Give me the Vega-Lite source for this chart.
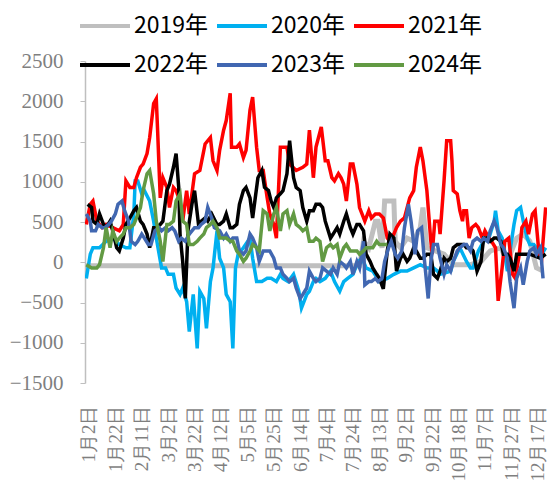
{
  "$schema": "https://vega.github.io/schema/vega-lite/v6.json",
  "autosize": "none",
  "width": 462,
  "height": 322,
  "padding": {"left": 85, "top": 61, "right": 0, "bottom": 110},
  "background": "white",
  "data": {
    "values": [
      {"s": "2019年", "i": -3, "v": -45}, {"s": "2019年", "i": 20, "v": -45}, {"s": "2019年", "i": 40, "v": -45},
      {"s": "2019年", "i": 60, "v": -45}, {"s": "2019年", "i": 80, "v": -45}, {"s": "2019年", "i": 100, "v": -45},
      {"s": "2019年", "i": 120, "v": -45}, {"s": "2019年", "i": 140, "v": -45}, {"s": "2019年", "i": 160, "v": -45},
      {"s": "2019年", "i": 180, "v": -45}, {"s": "2019年", "i": 205, "v": -45},
      {"s": "2019年", "i": 208, "v": 260}, {"s": "2019年", "i": 212, "v": 180}, {"s": "2019年", "i": 217, "v": 510},
      {"s": "2019年", "i": 219, "v": 510}, {"s": "2019年", "i": 222, "v": 180}, {"s": "2019年", "i": 224, "v": 760},
      {"s": "2019年", "i": 231, "v": 760}, {"s": "2019年", "i": 232, "v": 260}, {"s": "2019年", "i": 236, "v": 180},
      {"s": "2019年", "i": 241, "v": 300}, {"s": "2019年", "i": 246, "v": 260}, {"s": "2019年", "i": 251, "v": 430},
      {"s": "2019年", "i": 253, "v": 680}, {"s": "2019年", "i": 256, "v": 180}, {"s": "2019年", "i": 269, "v": 100},
      {"s": "2019年", "i": 276, "v": -30}, {"s": "2019年", "i": 281, "v": -30}, {"s": "2019年", "i": 289, "v": -30},
      {"s": "2019年", "i": 297, "v": 10}, {"s": "2019年", "i": 304, "v": 140}, {"s": "2019年", "i": 312, "v": 180},
      {"s": "2019年", "i": 317, "v": 10}, {"s": "2019年", "i": 324, "v": 300}, {"s": "2019年", "i": 329, "v": 350},
      {"s": "2019年", "i": 334, "v": 260}, {"s": "2019年", "i": 339, "v": -70}, {"s": "2019年", "i": 344, "v": -110},

      {"s": "2020年", "i": -2, "v": -200}, {"s": "2020年", "i": 1, "v": 100}, {"s": "2020年", "i": 3, "v": 180},
      {"s": "2020年", "i": 8, "v": 180}, {"s": "2020年", "i": 13, "v": 260}, {"s": "2020年", "i": 18, "v": 300},
      {"s": "2020年", "i": 23, "v": 220}, {"s": "2020年", "i": 28, "v": 180}, {"s": "2020年", "i": 31, "v": 180},
      {"s": "2020年", "i": 34, "v": 600}, {"s": "2020年", "i": 35, "v": 1010}, {"s": "2020年", "i": 37, "v": 1010},
      {"s": "2020年", "i": 40, "v": 850}, {"s": "2020年", "i": 42, "v": 890}, {"s": "2020年", "i": 46, "v": 760},
      {"s": "2020年", "i": 49, "v": 510}, {"s": "2020年", "i": 51, "v": 300}, {"s": "2020年", "i": 55, "v": -70},
      {"s": "2020年", "i": 58, "v": -70}, {"s": "2020年", "i": 60, "v": -150}, {"s": "2020年", "i": 64, "v": -150},
      {"s": "2020年", "i": 66, "v": -320}, {"s": "2020年", "i": 69, "v": -400}, {"s": "2020年", "i": 71, "v": -320},
      {"s": "2020年", "i": 74, "v": -490}, {"s": "2020年", "i": 76, "v": -860}, {"s": "2020年", "i": 79, "v": -400},
      {"s": "2020年", "i": 82, "v": -1070}, {"s": "2020年", "i": 84, "v": -360}, {"s": "2020年", "i": 87, "v": -450},
      {"s": "2020年", "i": 89, "v": -820}, {"s": "2020年", "i": 92, "v": -240}, {"s": "2020年", "i": 94, "v": -70},
      {"s": "2020年", "i": 97, "v": 390}, {"s": "2020年", "i": 99, "v": 50}, {"s": "2020年", "i": 102, "v": -70},
      {"s": "2020年", "i": 104, "v": -400}, {"s": "2020年", "i": 107, "v": -490}, {"s": "2020年", "i": 109, "v": -1070},
      {"s": "2020年", "i": 111, "v": -70}, {"s": "2020年", "i": 113, "v": 100}, {"s": "2020年", "i": 117, "v": 180},
      {"s": "2020年", "i": 122, "v": 300}, {"s": "2020年", "i": 124, "v": 50}, {"s": "2020年", "i": 127, "v": -240},
      {"s": "2020年", "i": 131, "v": -240}, {"s": "2020年", "i": 135, "v": -200}, {"s": "2020年", "i": 138, "v": -200},
      {"s": "2020年", "i": 142, "v": -240}, {"s": "2020年", "i": 145, "v": -150}, {"s": "2020年", "i": 147, "v": -200},
      {"s": "2020年", "i": 151, "v": -240}, {"s": "2020年", "i": 155, "v": -150}, {"s": "2020年", "i": 159, "v": -360},
      {"s": "2020年", "i": 161, "v": -570}, {"s": "2020年", "i": 165, "v": -400}, {"s": "2020年", "i": 167, "v": -360},
      {"s": "2020年", "i": 170, "v": -240}, {"s": "2020年", "i": 172, "v": -200}, {"s": "2020年", "i": 175, "v": -240},
      {"s": "2020年", "i": 179, "v": -200}, {"s": "2020年", "i": 183, "v": -110}, {"s": "2020年", "i": 186, "v": -240},
      {"s": "2020年", "i": 190, "v": -360}, {"s": "2020年", "i": 193, "v": -240}, {"s": "2020年", "i": 196, "v": -200},
      {"s": "2020年", "i": 200, "v": -150}, {"s": "2020年", "i": 204, "v": 10}, {"s": "2020年", "i": 207, "v": 50},
      {"s": "2020年", "i": 210, "v": -70}, {"s": "2020年", "i": 215, "v": -110}, {"s": "2020年", "i": 220, "v": -240},
      {"s": "2020年", "i": 226, "v": -200}, {"s": "2020年", "i": 231, "v": -150}, {"s": "2020年", "i": 236, "v": -110},
      {"s": "2020年", "i": 241, "v": -110}, {"s": "2020年", "i": 246, "v": -70}, {"s": "2020年", "i": 251, "v": -30},
      {"s": "2020年", "i": 256, "v": -70}, {"s": "2020年", "i": 261, "v": -70}, {"s": "2020年", "i": 264, "v": -110},
      {"s": "2020年", "i": 266, "v": -150}, {"s": "2020年", "i": 270, "v": -130}, {"s": "2020年", "i": 274, "v": -110},
      {"s": "2020年", "i": 276, "v": 10}, {"s": "2020年", "i": 281, "v": 180}, {"s": "2020年", "i": 286, "v": 10},
      {"s": "2020年", "i": 289, "v": -70}, {"s": "2020年", "i": 291, "v": -70}, {"s": "2020年", "i": 295, "v": 140},
      {"s": "2020年", "i": 299, "v": 260}, {"s": "2020年", "i": 303, "v": 300}, {"s": "2020年", "i": 307, "v": 510},
      {"s": "2020年", "i": 308, "v": 640}, {"s": "2020年", "i": 310, "v": 390}, {"s": "2020年", "i": 313, "v": 300},
      {"s": "2020年", "i": 317, "v": -110}, {"s": "2020年", "i": 319, "v": 140}, {"s": "2020年", "i": 322, "v": 470},
      {"s": "2020年", "i": 324, "v": 640}, {"s": "2020年", "i": 327, "v": 680}, {"s": "2020年", "i": 329, "v": 510},
      {"s": "2020年", "i": 332, "v": 300}, {"s": "2020年", "i": 334, "v": 220}, {"s": "2020年", "i": 337, "v": 220},
      {"s": "2020年", "i": 339, "v": 180}, {"s": "2020年", "i": 343, "v": 100}, {"s": "2020年", "i": 346, "v": 180},

      {"s": "2021年", "i": -2, "v": 470}, {"s": "2021年", "i": 1, "v": 720}, {"s": "2021年", "i": 3, "v": 760},
      {"s": "2021年", "i": 6, "v": 510}, {"s": "2021年", "i": 10, "v": 430}, {"s": "2021年", "i": 13, "v": 470},
      {"s": "2021年", "i": 18, "v": 430}, {"s": "2021年", "i": 23, "v": 390}, {"s": "2021年", "i": 26, "v": 470},
      {"s": "2021年", "i": 28, "v": 1010}, {"s": "2021年", "i": 31, "v": 930}, {"s": "2021年", "i": 34, "v": 930},
      {"s": "2021年", "i": 36, "v": 1050}, {"s": "2021年", "i": 39, "v": 1180}, {"s": "2021年", "i": 41, "v": 1220},
      {"s": "2021年", "i": 44, "v": 1350}, {"s": "2021年", "i": 46, "v": 1550}, {"s": "2021年", "i": 49, "v": 1970},
      {"s": "2021年", "i": 51, "v": 2030}, {"s": "2021年", "i": 52, "v": 1640}, {"s": "2021年", "i": 54, "v": 800},
      {"s": "2021年", "i": 56, "v": 1050}, {"s": "2021年", "i": 59, "v": 930}, {"s": "2021年", "i": 61, "v": 680},
      {"s": "2021年", "i": 64, "v": 930}, {"s": "2021年", "i": 66, "v": 890}, {"s": "2021年", "i": 69, "v": 760},
      {"s": "2021年", "i": 71, "v": 510}, {"s": "2021年", "i": 74, "v": 890}, {"s": "2021年", "i": 76, "v": 600},
      {"s": "2021年", "i": 80, "v": 1100}, {"s": "2021年", "i": 84, "v": 1140}, {"s": "2021年", "i": 88, "v": 1470},
      {"s": "2021年", "i": 92, "v": 1550}, {"s": "2021年", "i": 94, "v": 1260}, {"s": "2021年", "i": 97, "v": 1140},
      {"s": "2021年", "i": 99, "v": 1390}, {"s": "2021年", "i": 102, "v": 1640}, {"s": "2021年", "i": 104, "v": 1760},
      {"s": "2021年", "i": 107, "v": 2100}, {"s": "2021年", "i": 108, "v": 1430}, {"s": "2021年", "i": 112, "v": 1430},
      {"s": "2021年", "i": 114, "v": 1470}, {"s": "2021年", "i": 117, "v": 1300}, {"s": "2021年", "i": 119, "v": 1390},
      {"s": "2021年", "i": 122, "v": 1890}, {"s": "2021年", "i": 124, "v": 2050}, {"s": "2021年", "i": 127, "v": 1430},
      {"s": "2021年", "i": 129, "v": 1140}, {"s": "2021年", "i": 132, "v": 1140}, {"s": "2021年", "i": 135, "v": 800},
      {"s": "2021年", "i": 137, "v": 600}, {"s": "2021年", "i": 140, "v": 470}, {"s": "2021年", "i": 142, "v": 300},
      {"s": "2021年", "i": 145, "v": 1430}, {"s": "2021年", "i": 150, "v": 1430}, {"s": "2021年", "i": 152, "v": 1220},
      {"s": "2021年", "i": 157, "v": 1140}, {"s": "2021年", "i": 162, "v": 1180}, {"s": "2021年", "i": 165, "v": 1220},
      {"s": "2021年", "i": 167, "v": 1640}, {"s": "2021年", "i": 170, "v": 1050}, {"s": "2021年", "i": 172, "v": 1430},
      {"s": "2021年", "i": 176, "v": 1680}, {"s": "2021年", "i": 179, "v": 1260}, {"s": "2021年", "i": 181, "v": 1260},
      {"s": "2021年", "i": 184, "v": 1050}, {"s": "2021年", "i": 186, "v": 1010}, {"s": "2021年", "i": 189, "v": 1100},
      {"s": "2021年", "i": 191, "v": 1050}, {"s": "2021年", "i": 193, "v": 970}, {"s": "2021年", "i": 195, "v": 760},
      {"s": "2021年", "i": 198, "v": 1220}, {"s": "2021年", "i": 200, "v": 1220}, {"s": "2021年", "i": 203, "v": 970},
      {"s": "2021年", "i": 205, "v": 680}, {"s": "2021年", "i": 209, "v": 510}, {"s": "2021年", "i": 212, "v": 640},
      {"s": "2021年", "i": 214, "v": 550}, {"s": "2021年", "i": 217, "v": 600}, {"s": "2021年", "i": 220, "v": 600},
      {"s": "2021年", "i": 223, "v": 550}, {"s": "2021年", "i": 226, "v": 300}, {"s": "2021年", "i": 228, "v": 260},
      {"s": "2021年", "i": 231, "v": 350}, {"s": "2021年", "i": 233, "v": 430}, {"s": "2021年", "i": 236, "v": 510},
      {"s": "2021年", "i": 239, "v": 550}, {"s": "2021年", "i": 243, "v": 800}, {"s": "2021年", "i": 246, "v": 890},
      {"s": "2021年", "i": 248, "v": 1180}, {"s": "2021年", "i": 251, "v": 1430}, {"s": "2021年", "i": 253, "v": 1260},
      {"s": "2021年", "i": 256, "v": 890}, {"s": "2021年", "i": 259, "v": 260}, {"s": "2021年", "i": 260, "v": 100},
      {"s": "2021年", "i": 262, "v": 510}, {"s": "2021年", "i": 265, "v": 510}, {"s": "2021年", "i": 266, "v": 350},
      {"s": "2021年", "i": 269, "v": 1010}, {"s": "2021年", "i": 271, "v": 1510}, {"s": "2021年", "i": 274, "v": 1510},
      {"s": "2021年", "i": 275, "v": 1260}, {"s": "2021年", "i": 276, "v": 890}, {"s": "2021年", "i": 279, "v": 850},
      {"s": "2021年", "i": 281, "v": 640}, {"s": "2021年", "i": 283, "v": 510}, {"s": "2021年", "i": 284, "v": 640},
      {"s": "2021年", "i": 286, "v": 640}, {"s": "2021年", "i": 288, "v": 300}, {"s": "2021年", "i": 290, "v": 430},
      {"s": "2021年", "i": 293, "v": 470}, {"s": "2021年", "i": 295, "v": 430}, {"s": "2021年", "i": 298, "v": 300},
      {"s": "2021年", "i": 300, "v": 390}, {"s": "2021年", "i": 303, "v": 300}, {"s": "2021年", "i": 305, "v": 260},
      {"s": "2021年", "i": 308, "v": 180}, {"s": "2021年", "i": 310, "v": -480}, {"s": "2021年", "i": 313, "v": -70},
      {"s": "2021年", "i": 315, "v": 260}, {"s": "2021年", "i": 318, "v": 300}, {"s": "2021年", "i": 321, "v": -150},
      {"s": "2021年", "i": 323, "v": -200}, {"s": "2021年", "i": 326, "v": 100}, {"s": "2021年", "i": 328, "v": 430},
      {"s": "2021年", "i": 331, "v": 510}, {"s": "2021年", "i": 333, "v": 350}, {"s": "2021年", "i": 336, "v": 600},
      {"s": "2021年", "i": 338, "v": 640}, {"s": "2021年", "i": 341, "v": 100}, {"s": "2021年", "i": 343, "v": 50},
      {"s": "2021年", "i": 346, "v": 680},

      {"s": "2022年", "i": -1, "v": 720}, {"s": "2022年", "i": 2, "v": 680}, {"s": "2022年", "i": 3, "v": 510},
      {"s": "2022年", "i": 6, "v": 470}, {"s": "2022年", "i": 8, "v": 600}, {"s": "2022年", "i": 11, "v": 470},
      {"s": "2022年", "i": 13, "v": 430}, {"s": "2022年", "i": 16, "v": 510}, {"s": "2022年", "i": 18, "v": 390},
      {"s": "2022年", "i": 21, "v": 180}, {"s": "2022年", "i": 23, "v": 140}, {"s": "2022年", "i": 26, "v": 300},
      {"s": "2022年", "i": 28, "v": 470}, {"s": "2022年", "i": 31, "v": 550}, {"s": "2022年", "i": 34, "v": 640},
      {"s": "2022年", "i": 36, "v": 680}, {"s": "2022年", "i": 39, "v": 510}, {"s": "2022年", "i": 41, "v": 470},
      {"s": "2022年", "i": 44, "v": 350}, {"s": "2022年", "i": 46, "v": 180}, {"s": "2022年", "i": 49, "v": 430},
      {"s": "2022年", "i": 51, "v": 430}, {"s": "2022年", "i": 54, "v": 470}, {"s": "2022年", "i": 56, "v": 510},
      {"s": "2022年", "i": 59, "v": 890}, {"s": "2022年", "i": 61, "v": 970}, {"s": "2022年", "i": 64, "v": 1180},
      {"s": "2022年", "i": 66, "v": 1350}, {"s": "2022年", "i": 68, "v": 930}, {"s": "2022年", "i": 69, "v": 350},
      {"s": "2022年", "i": 71, "v": 10}, {"s": "2022年", "i": 73, "v": -450}, {"s": "2022年", "i": 75, "v": 390},
      {"s": "2022年", "i": 78, "v": 720}, {"s": "2022年", "i": 80, "v": 890}, {"s": "2022年", "i": 83, "v": 470},
      {"s": "2022年", "i": 85, "v": 510}, {"s": "2022年", "i": 88, "v": 550}, {"s": "2022年", "i": 90, "v": 510},
      {"s": "2022年", "i": 93, "v": 600}, {"s": "2022年", "i": 97, "v": 470}, {"s": "2022年", "i": 99, "v": 470},
      {"s": "2022年", "i": 102, "v": 510}, {"s": "2022年", "i": 104, "v": 600}, {"s": "2022年", "i": 107, "v": 430},
      {"s": "2022年", "i": 109, "v": 430}, {"s": "2022年", "i": 112, "v": 470}, {"s": "2022年", "i": 114, "v": 720},
      {"s": "2022年", "i": 117, "v": 890}, {"s": "2022年", "i": 119, "v": 930}, {"s": "2022年", "i": 122, "v": 800},
      {"s": "2022年", "i": 124, "v": 550}, {"s": "2022年", "i": 126, "v": 800}, {"s": "2022年", "i": 128, "v": 1050},
      {"s": "2022年", "i": 131, "v": 1140}, {"s": "2022年", "i": 133, "v": 930}, {"s": "2022年", "i": 136, "v": 890},
      {"s": "2022年", "i": 138, "v": 760}, {"s": "2022年", "i": 140, "v": 680}, {"s": "2022年", "i": 142, "v": 800},
      {"s": "2022年", "i": 145, "v": 850}, {"s": "2022年", "i": 147, "v": 890}, {"s": "2022年", "i": 150, "v": 1100},
      {"s": "2022年", "i": 152, "v": 1510}, {"s": "2022年", "i": 155, "v": 1050}, {"s": "2022年", "i": 157, "v": 930},
      {"s": "2022年", "i": 160, "v": 890}, {"s": "2022年", "i": 162, "v": 680}, {"s": "2022年", "i": 165, "v": 510},
      {"s": "2022年", "i": 167, "v": 640}, {"s": "2022年", "i": 170, "v": 640}, {"s": "2022年", "i": 172, "v": 720},
      {"s": "2022年", "i": 175, "v": 720}, {"s": "2022年", "i": 177, "v": 680}, {"s": "2022年", "i": 179, "v": 510},
      {"s": "2022年", "i": 183, "v": 300}, {"s": "2022年", "i": 185, "v": 350}, {"s": "2022年", "i": 188, "v": 430},
      {"s": "2022年", "i": 190, "v": 350}, {"s": "2022年", "i": 193, "v": 510}, {"s": "2022年", "i": 195, "v": 600},
      {"s": "2022年", "i": 198, "v": 430}, {"s": "2022年", "i": 200, "v": 350}, {"s": "2022年", "i": 203, "v": 470},
      {"s": "2022年", "i": 205, "v": 470}, {"s": "2022年", "i": 208, "v": 390}, {"s": "2022年", "i": 210, "v": 100},
      {"s": "2022年", "i": 213, "v": 10}, {"s": "2022年", "i": 215, "v": -70}, {"s": "2022年", "i": 218, "v": -150},
      {"s": "2022年", "i": 220, "v": -200}, {"s": "2022年", "i": 223, "v": -330}, {"s": "2022年", "i": 226, "v": 140},
      {"s": "2022年", "i": 228, "v": 350}, {"s": "2022年", "i": 231, "v": 300}, {"s": "2022年", "i": 233, "v": -110},
      {"s": "2022年", "i": 236, "v": 50}, {"s": "2022年", "i": 238, "v": 100}, {"s": "2022年", "i": 241, "v": 10},
      {"s": "2022年", "i": 243, "v": 50}, {"s": "2022年", "i": 246, "v": 180}, {"s": "2022年", "i": 248, "v": 140},
      {"s": "2022年", "i": 251, "v": 50}, {"s": "2022年", "i": 253, "v": 50}, {"s": "2022年", "i": 256, "v": 100},
      {"s": "2022年", "i": 259, "v": 100}, {"s": "2022年", "i": 261, "v": -150}, {"s": "2022年", "i": 264, "v": -200},
      {"s": "2022年", "i": 266, "v": -110}, {"s": "2022年", "i": 269, "v": 50}, {"s": "2022年", "i": 271, "v": 10},
      {"s": "2022年", "i": 274, "v": 50}, {"s": "2022年", "i": 276, "v": 180}, {"s": "2022年", "i": 279, "v": 220},
      {"s": "2022年", "i": 281, "v": 220}, {"s": "2022年", "i": 284, "v": 220}, {"s": "2022年", "i": 286, "v": 180},
      {"s": "2022年", "i": 289, "v": 180}, {"s": "2022年", "i": 291, "v": 140}, {"s": "2022年", "i": 294, "v": -110},
      {"s": "2022年", "i": 297, "v": 10}, {"s": "2022年", "i": 299, "v": 300}, {"s": "2022年", "i": 302, "v": 300},
      {"s": "2022年", "i": 304, "v": 260}, {"s": "2022年", "i": 307, "v": 300}, {"s": "2022年", "i": 309, "v": 300},
      {"s": "2022年", "i": 312, "v": 260}, {"s": "2022年", "i": 314, "v": 100}, {"s": "2022年", "i": 317, "v": 100},
      {"s": "2022年", "i": 319, "v": 50}, {"s": "2022年", "i": 322, "v": -110}, {"s": "2022年", "i": 324, "v": 100},
      {"s": "2022年", "i": 329, "v": 100}, {"s": "2022年", "i": 334, "v": 100}, {"s": "2022年", "i": 342, "v": 50},
      {"s": "2022年", "i": 346, "v": 100},

      {"s": "2023年", "i": -2, "v": 600}, {"s": "2023年", "i": 1, "v": 510}, {"s": "2023年", "i": 2, "v": 390},
      {"s": "2023年", "i": 5, "v": 390}, {"s": "2023年", "i": 7, "v": 470}, {"s": "2023年", "i": 10, "v": 430},
      {"s": "2023年", "i": 12, "v": 430}, {"s": "2023年", "i": 15, "v": 470}, {"s": "2023年", "i": 17, "v": 510},
      {"s": "2023年", "i": 20, "v": 600}, {"s": "2023年", "i": 22, "v": 720}, {"s": "2023年", "i": 25, "v": 760},
      {"s": "2023年", "i": 27, "v": 640}, {"s": "2023年", "i": 30, "v": 510}, {"s": "2023年", "i": 32, "v": 260},
      {"s": "2023年", "i": 35, "v": 220}, {"s": "2023年", "i": 37, "v": 260}, {"s": "2023年", "i": 40, "v": 350},
      {"s": "2023年", "i": 42, "v": 300}, {"s": "2023年", "i": 45, "v": 220}, {"s": "2023年", "i": 47, "v": 220},
      {"s": "2023年", "i": 50, "v": 390}, {"s": "2023年", "i": 53, "v": 430}, {"s": "2023年", "i": 55, "v": 390},
      {"s": "2023年", "i": 58, "v": 430}, {"s": "2023年", "i": 60, "v": 390}, {"s": "2023年", "i": 63, "v": 430},
      {"s": "2023年", "i": 65, "v": 390}, {"s": "2023年", "i": 68, "v": 260}, {"s": "2023年", "i": 70, "v": 300},
      {"s": "2023年", "i": 73, "v": 260}, {"s": "2023年", "i": 76, "v": 350}, {"s": "2023年", "i": 80, "v": 430},
      {"s": "2023年", "i": 83, "v": 430}, {"s": "2023年", "i": 85, "v": 470}, {"s": "2023年", "i": 88, "v": 510},
      {"s": "2023年", "i": 90, "v": 680}, {"s": "2023年", "i": 93, "v": 550}, {"s": "2023年", "i": 95, "v": 430},
      {"s": "2023年", "i": 99, "v": 390}, {"s": "2023年", "i": 102, "v": 300}, {"s": "2023年", "i": 104, "v": 350},
      {"s": "2023年", "i": 107, "v": 260}, {"s": "2023年", "i": 109, "v": 300}, {"s": "2023年", "i": 112, "v": 300},
      {"s": "2023年", "i": 114, "v": 140}, {"s": "2023年", "i": 117, "v": 100}, {"s": "2023年", "i": 119, "v": 140},
      {"s": "2023年", "i": 122, "v": 350}, {"s": "2023年", "i": 124, "v": 300}, {"s": "2023年", "i": 127, "v": 180},
      {"s": "2023年", "i": 129, "v": 10}, {"s": "2023年", "i": 132, "v": 140}, {"s": "2023年", "i": 137, "v": 140},
      {"s": "2023年", "i": 140, "v": 50}, {"s": "2023年", "i": 142, "v": -70}, {"s": "2023年", "i": 145, "v": -70},
      {"s": "2023年", "i": 147, "v": -150}, {"s": "2023年", "i": 150, "v": -200}, {"s": "2023年", "i": 152, "v": -240},
      {"s": "2023年", "i": 155, "v": -200}, {"s": "2023年", "i": 157, "v": -320}, {"s": "2023年", "i": 160, "v": -450},
      {"s": "2023年", "i": 162, "v": -400}, {"s": "2023年", "i": 165, "v": -320}, {"s": "2023年", "i": 167, "v": -110},
      {"s": "2023年", "i": 170, "v": -200}, {"s": "2023年", "i": 172, "v": -240}, {"s": "2023年", "i": 175, "v": -200},
      {"s": "2023年", "i": 177, "v": -70}, {"s": "2023年", "i": 180, "v": -110}, {"s": "2023年", "i": 183, "v": -150},
      {"s": "2023年", "i": 185, "v": -70}, {"s": "2023年", "i": 188, "v": -150}, {"s": "2023年", "i": 190, "v": 10},
      {"s": "2023年", "i": 193, "v": -30}, {"s": "2023年", "i": 195, "v": -70}, {"s": "2023年", "i": 198, "v": 10},
      {"s": "2023年", "i": 200, "v": -150}, {"s": "2023年", "i": 203, "v": 10}, {"s": "2023年", "i": 205, "v": -70},
      {"s": "2023年", "i": 208, "v": 260}, {"s": "2023年", "i": 209, "v": -280}, {"s": "2023年", "i": 212, "v": -240},
      {"s": "2023年", "i": 214, "v": -240}, {"s": "2023年", "i": 217, "v": -200}, {"s": "2023年", "i": 219, "v": -240},
      {"s": "2023年", "i": 222, "v": -200}, {"s": "2023年", "i": 224, "v": 10}, {"s": "2023年", "i": 227, "v": 180},
      {"s": "2023年", "i": 229, "v": 260}, {"s": "2023年", "i": 232, "v": 100}, {"s": "2023年", "i": 234, "v": 50},
      {"s": "2023年", "i": 237, "v": 140}, {"s": "2023年", "i": 239, "v": 430}, {"s": "2023年", "i": 242, "v": 720},
      {"s": "2023年", "i": 244, "v": 510}, {"s": "2023年", "i": 247, "v": 100}, {"s": "2023年", "i": 249, "v": 390},
      {"s": "2023年", "i": 252, "v": 430}, {"s": "2023年", "i": 254, "v": 50}, {"s": "2023年", "i": 257, "v": -450},
      {"s": "2023年", "i": 259, "v": 10}, {"s": "2023年", "i": 261, "v": 220}, {"s": "2023年", "i": 264, "v": 220},
      {"s": "2023年", "i": 266, "v": 50}, {"s": "2023年", "i": 269, "v": -150}, {"s": "2023年", "i": 271, "v": -30},
      {"s": "2023年", "i": 274, "v": -110}, {"s": "2023年", "i": 276, "v": 10}, {"s": "2023年", "i": 279, "v": 140},
      {"s": "2023年", "i": 281, "v": 180}, {"s": "2023年", "i": 284, "v": 220}, {"s": "2023年", "i": 286, "v": 220},
      {"s": "2023年", "i": 289, "v": 140}, {"s": "2023年", "i": 291, "v": 260}, {"s": "2023年", "i": 294, "v": 300},
      {"s": "2023年", "i": 297, "v": 260}, {"s": "2023年", "i": 299, "v": 300}, {"s": "2023年", "i": 302, "v": 260},
      {"s": "2023年", "i": 304, "v": 390}, {"s": "2023年", "i": 307, "v": 510}, {"s": "2023年", "i": 309, "v": 430},
      {"s": "2023年", "i": 312, "v": 220}, {"s": "2023年", "i": 314, "v": 180}, {"s": "2023年", "i": 317, "v": 50},
      {"s": "2023年", "i": 319, "v": -240}, {"s": "2023年", "i": 322, "v": -570}, {"s": "2023年", "i": 324, "v": -200},
      {"s": "2023年", "i": 327, "v": -70}, {"s": "2023年", "i": 329, "v": -280}, {"s": "2023年", "i": 332, "v": 10},
      {"s": "2023年", "i": 334, "v": 140}, {"s": "2023年", "i": 337, "v": 180}, {"s": "2023年", "i": 339, "v": 100},
      {"s": "2023年", "i": 342, "v": 180}, {"s": "2023年", "i": 344, "v": -200},

      {"s": "2024年", "i": -2, "v": -30}, {"s": "2024年", "i": 2, "v": -70}, {"s": "2024年", "i": 6, "v": -70},
      {"s": "2024年", "i": 8, "v": -30}, {"s": "2024年", "i": 11, "v": 180}, {"s": "2024年", "i": 13, "v": 430},
      {"s": "2024年", "i": 16, "v": 180}, {"s": "2024年", "i": 18, "v": 390}, {"s": "2024年", "i": 21, "v": 260},
      {"s": "2024年", "i": 23, "v": 300}, {"s": "2024年", "i": 26, "v": 350}, {"s": "2024年", "i": 28, "v": 430},
      {"s": "2024年", "i": 31, "v": 430}, {"s": "2024年", "i": 34, "v": 470}, {"s": "2024年", "i": 36, "v": 550},
      {"s": "2024年", "i": 39, "v": 680}, {"s": "2024年", "i": 41, "v": 890}, {"s": "2024年", "i": 44, "v": 1100},
      {"s": "2024年", "i": 46, "v": 1140}, {"s": "2024年", "i": 49, "v": 850}, {"s": "2024年", "i": 51, "v": 510},
      {"s": "2024年", "i": 54, "v": 260}, {"s": "2024年", "i": 56, "v": 10}, {"s": "2024年", "i": 59, "v": 470},
      {"s": "2024年", "i": 61, "v": 470}, {"s": "2024年", "i": 64, "v": 510}, {"s": "2024年", "i": 66, "v": 760},
      {"s": "2024年", "i": 69, "v": 850}, {"s": "2024年", "i": 71, "v": 510}, {"s": "2024年", "i": 74, "v": 470},
      {"s": "2024年", "i": 76, "v": 220}, {"s": "2024年", "i": 79, "v": 220}, {"s": "2024年", "i": 82, "v": 260},
      {"s": "2024年", "i": 84, "v": 300}, {"s": "2024年", "i": 87, "v": 350}, {"s": "2024年", "i": 89, "v": 430},
      {"s": "2024年", "i": 92, "v": 470}, {"s": "2024年", "i": 94, "v": 510}, {"s": "2024年", "i": 97, "v": 430},
      {"s": "2024年", "i": 99, "v": 300}, {"s": "2024年", "i": 104, "v": 300}, {"s": "2024年", "i": 107, "v": 260},
      {"s": "2024年", "i": 109, "v": 260}, {"s": "2024年", "i": 112, "v": 140}, {"s": "2024年", "i": 114, "v": 100},
      {"s": "2024年", "i": 117, "v": 10}, {"s": "2024年", "i": 119, "v": 50}, {"s": "2024年", "i": 122, "v": 140},
      {"s": "2024年", "i": 124, "v": 220}, {"s": "2024年", "i": 127, "v": 180}, {"s": "2024年", "i": 129, "v": 140},
      {"s": "2024年", "i": 132, "v": 640}, {"s": "2024年", "i": 135, "v": 600}, {"s": "2024年", "i": 137, "v": 390},
      {"s": "2024年", "i": 140, "v": 600}, {"s": "2024年", "i": 142, "v": 680}, {"s": "2024年", "i": 145, "v": 390},
      {"s": "2024年", "i": 147, "v": 600}, {"s": "2024年", "i": 150, "v": 640}, {"s": "2024年", "i": 152, "v": 470},
      {"s": "2024年", "i": 155, "v": 600}, {"s": "2024年", "i": 157, "v": 470}, {"s": "2024年", "i": 160, "v": 430},
      {"s": "2024年", "i": 162, "v": 390}, {"s": "2024年", "i": 165, "v": 430}, {"s": "2024年", "i": 167, "v": 260},
      {"s": "2024年", "i": 170, "v": 260}, {"s": "2024年", "i": 172, "v": 300}, {"s": "2024年", "i": 175, "v": 260},
      {"s": "2024年", "i": 177, "v": 10}, {"s": "2024年", "i": 180, "v": 180}, {"s": "2024年", "i": 183, "v": 220},
      {"s": "2024年", "i": 185, "v": 180}, {"s": "2024年", "i": 188, "v": 220}, {"s": "2024年", "i": 190, "v": 50},
      {"s": "2024年", "i": 193, "v": 180}, {"s": "2024年", "i": 195, "v": 220}, {"s": "2024年", "i": 198, "v": 140},
      {"s": "2024年", "i": 203, "v": 140}, {"s": "2024年", "i": 205, "v": 100}, {"s": "2024年", "i": 208, "v": 140},
      {"s": "2024年", "i": 210, "v": 180}, {"s": "2024年", "i": 215, "v": 180}, {"s": "2024年", "i": 218, "v": 260},
      {"s": "2024年", "i": 220, "v": 220}, {"s": "2024年", "i": 226, "v": 220}
    ]
  },
  "encoding": {
    "x": {
      "field": "i",
      "type": "quantitative",
      "scale": {"domain": [-3, 347], "nice": false, "zero": false},
      "axis": {
        "title": null,
        "domain": false,
        "ticks": false,
        "grid": false,
        "values": [0, 20, 40, 60, 80, 100, 120, 140, 160, 180, 200, 220, 240, 260, 280, 300, 320, 340],
        "labelExpr": "['1月2日','1月22日','2月11日','3月2日','3月22日','4月12日','5月5日','5月25日','6月14日','7月4日','7月24日','8月13日','9月2日','9月22日','10月18日','11月7日','11月27日','12月17日'][datum.value / 20]",
        "labelAngle": -90,
        "labelAlign": "right",
        "labelBaseline": "middle",
        "labelPadding": 22,
        "labelFont": "Liberation Serif",
        "labelFontSize": 19,
        "labelColor": "#7f7f7f",
        "labelOverlap": false,
        "labelFlush": false
      }
    },
    "y": {
      "field": "v",
      "type": "quantitative",
      "scale": {"domain": [-1500, 2500], "nice": false},
      "axis": {
        "title": null,
        "grid": false,
        "values": [-1500, -1000, -500, 0, 500, 1000, 1500, 2000, 2500],
        "format": "d",
        "domainColor": "#bfbfbf",
        "domainWidth": 1.5,
        "tickColor": "#bfbfbf",
        "tickSize": 5,
        "labelPadding": 17,
        "labelFont": "Liberation Serif",
        "labelFontSize": 21,
        "labelColor": "#7f7f7f"
      }
    },
    "color": {
      "field": "s",
      "type": "nominal",
      "scale": {
        "domain": ["2019年", "2020年", "2021年", "2022年", "2023年", "2024年"],
        "range": ["#bfbfbf", "#00b0f0", "#ff0000", "#000000", "#4167b1", "#629a43"]
      },
      "legend": {
        "title": null,
        "orient": "none",
        "direction": "horizontal",
        "legendX": -7,
        "legendY": -62,
        "columns": 3,
        "columnPadding": 0,
        "rowPadding": -6,
        "symbolType": "stroke",
        "symbolSize": 2500,
        "symbolStrokeWidth": 4,
        "labelOffset": 2,
        "labelFont": "Noto Sans CJK SC",
        "labelFontSize": 23,
        "labelColor": "#000000",
        "labelLimit": 200
      }
    }
  },
  "layer": [
    {
      "transform": [{"filter": "datum.s === '2019年'"}],
      "mark": {"type": "line", "strokeWidth": 5, "clip": true}
    },
    {
      "transform": [{"filter": "datum.s !== '2019年'"}],
      "mark": {"type": "line", "strokeWidth": 3.5, "clip": true}
    }
  ],
  "config": {
    "view": {"stroke": null}
  }
}
